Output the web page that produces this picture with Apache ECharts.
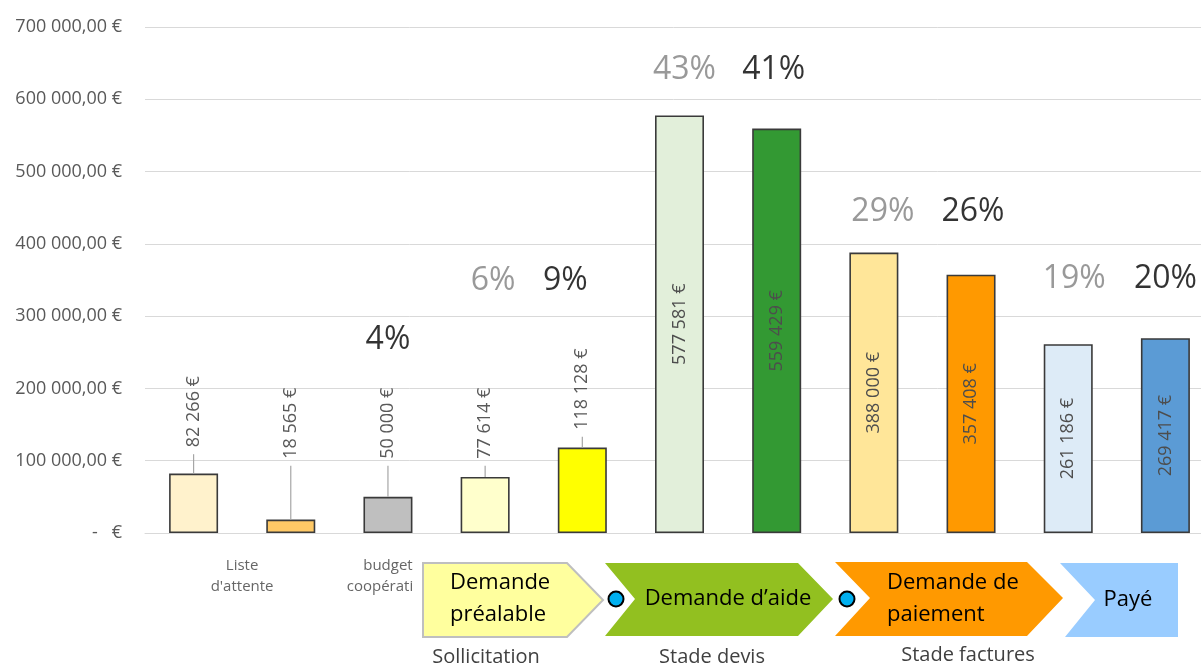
<!DOCTYPE html>
<html>
<head>
<meta charset="utf-8">
<script src="https://cdn.jsdelivr.net/npm/echarts@6/dist/echarts.min.js"></script>
<style>
html,body{margin:0;padding:0;background:#fff;}
#main{width:1201px;height:664px;}
</style>
</head>
<body>
<div id="main"></div>
<script>
// ---- data ----
var categories = ['Liste d\'attente', 'cat2', 'budget coopération', 'cat4', 'cat5', 'cat6', 'cat7', 'cat8', 'cat9', 'cat10', 'cat11'];
var values = [82266, 18565, 50000, 77614, 118128, 577581, 559429, 388000, 357408, 261186, 269417];
var barColors = ['#FFF2CC', '#FFC966', '#BFBFBF', '#FFFFCC', '#FFFF00', '#E2EFDA', '#339933', '#FFE699', '#FF9900', '#DDEBF7', '#5B9BD5'];
var pctLabels = ['', '', '4%', '6%', '9%', '43%', '41%', '29%', '26%', '19%', '20%'];
var pctTone = ['', '', 'dark', 'light', 'dark', 'light', 'dark', 'light', 'dark', 'light', 'dark'];
var pctLevels = [null, null, 267000, 349000, 349000, 640000, 640000, 444000, 444000, 352000, 352000];
var leaderTops = [109000, 93000, 93000, 93000, 133000];

function fmt(v) {
  return String(v).replace(/\B(?=(\d{3})+(?!\d))/g, ' ');
}

var FONT = '"Open Sans", "Noto Sans", sans-serif';
// small horizontal nudges (pixels) of the percentage annotations, as in the original
var pctNudge = [0, 0, 0, 8, -17, 5, -3, 9, 2, 6, 0];

var barData = values.map(function (v, i) {
  return {
    value: v,
    itemStyle: { color: barColors[i] },
    label: { show: i >= 5 }
  };
});

var leaderData = leaderTops.map(function (t, i) { return [i, values[i], t]; });

var pctData = [];
pctLabels.forEach(function (p, i) {
  if (p) {
    pctData.push({
      value: [i, pctLevels[i]],
      label: { formatter: p, color: pctTone[i] === 'dark' ? '#000000' : '#808080', offset: [pctNudge[i], 0] }
    });
  }
});

var chart = echarts.init(document.getElementById('main'), null, { renderer: 'canvas' });

var option = {
  animation: false,
  backgroundColor: '#ffffff',
  grid: { left: 145, top: 27, width: 1069, height: 506, containLabel: false, outerBoundsMode: 'none' },
  xAxis: {
    type: 'category',
    data: categories,
    axisLine: { show: true, lineStyle: { color: '#D9D9D9', width: 1 } },
    axisTick: { show: false },
    axisLabel: {
      interval: 0,
      margin: 22,
      color: '#666666',
      fontFamily: FONT,
      fontSize: 15,
      lineHeight: 21,
      formatter: function (val, idx) {
        if (idx === 0) return '{a|Liste}\n{a|d\'attente}';
        if (idx === 2) return '{b|budget}\n{c|coopérati}';
        return '';
      },
      rich: {
        a: { padding: [0, 0, 0, 97], color: '#666666', fontFamily: FONT, fontSize: 15, lineHeight: 21 },
        b: { color: '#666666', fontFamily: FONT, fontSize: 15, lineHeight: 21 },
        c: { padding: [0, 16, 0, 0], color: '#666666', fontFamily: FONT, fontSize: 15, lineHeight: 21 }
      }
    }
  },
  yAxis: {
    type: 'value',
    min: 0,
    max: 700000,
    interval: 100000,
    axisLine: { show: false },
    axisTick: { show: false },
    splitLine: { show: true, lineStyle: { color: '#D9D9D9', width: 1 } },
    axisLabel: {
      margin: 23,
      color: '#595959',
      fontFamily: FONT,
      fontSize: 18,
      formatter: function (v) {
        if (v === 0) return '-   €';
        return fmt(v) + ',00 €';
      }
    }
  },
  series: [
    {
      type: 'bar',
      data: barData,
      barWidth: 49,
      itemStyle: { borderColor: '#3A3A3A', borderWidth: 1.6 },
      label: {
        position: 'inside',
        rotate: 90,
        color: '#4D4D4D',
        fontFamily: FONT,
        fontSize: 18,
        formatter: function (p) { return fmt(p.value) + ' €'; }
      },
      z: 2
    },
    {
      type: 'custom',
      data: leaderData,
      encode: { x: 0, y: [1, 2] },
      renderItem: function (params, api) {
        var i = api.value(0);
        var p0 = api.coord([i, api.value(1)]);
        var p1 = api.coord([i, api.value(2)]);
        return {
          type: 'group',
          children: [
            {
              type: 'line',
              shape: { x1: p0[0], y1: p0[1], x2: p1[0], y2: p1[1] },
              style: { stroke: '#A6A6A6', lineWidth: 1.2 }
            },
            {
              type: 'text',
              x: p1[0],
              y: p1[1] - 7,
              rotation: Math.PI / 2,
              style: {
                text: fmt(values[i]) + ' €',
                fill: '#595959',
                font: '18px ' + FONT,
                align: 'left',
                verticalAlign: 'middle',
                textAlign: 'left',
                textVerticalAlign: 'middle'
              }
            }
          ]
        };
      },
      z: 3
    },
    {
      type: 'scatter',
      data: pctData,
      symbolSize: 0,
      label: {
        show: true,
        position: 'inside',
        fontFamily: FONT,
        fontSize: 32
      },
      z: 4
    }
  ],
  graphic: [
    { type: 'polygon', shape: { points: [[423, 563], [567, 563], [603, 600], [567, 637], [423, 637]] }, style: { fill: '#FFFF9E', stroke: '#BFBFBF', lineWidth: 2 }, z: 10 },
    { type: 'polygon', shape: { points: [[605, 563], [798, 563], [833, 599], [798, 636], [605, 636], [635, 599]] }, style: { fill: '#92C020' }, z: 10 },
    { type: 'polygon', shape: { points: [[835, 562], [1027, 562], [1063, 598], [1027, 636], [835, 636], [870, 598]] }, style: { fill: '#FF9900' }, z: 10 },
    { type: 'polygon', shape: { points: [[1060, 563], [1178, 563], [1178, 637], [1065, 637], [1095, 600]] }, style: { fill: '#99CCFF' }, z: 10 },
    { type: 'circle', shape: { cx: 616, cy: 599, r: 7.5 }, style: { fill: '#00B0F0', stroke: '#000000', lineWidth: 2 }, z: 11 },
    { type: 'circle', shape: { cx: 847, cy: 599, r: 7.5 }, style: { fill: '#00B0F0', stroke: '#000000', lineWidth: 2 }, z: 11 },
    { type: 'text', x: 450, y: 599, style: { text: 'Demande\npréalable', font: '22px ' + FONT, fill: '#000000', lineHeight: 32, align: 'left', verticalAlign: 'middle' }, z: 12 },
    { type: 'text', x: 728, y: 599, style: { text: 'Demande d’aide', font: '22px ' + FONT, fill: '#000000', align: 'center', verticalAlign: 'middle' }, z: 12 },
    { type: 'text', x: 887, y: 599, style: { text: 'Demande de\npaiement', font: '22px ' + FONT, fill: '#000000', lineHeight: 32, align: 'left', verticalAlign: 'middle' }, z: 12 },
    { type: 'text', x: 1128, y: 600, style: { text: 'Payé', font: '22px ' + FONT, fill: '#000000', align: 'center', verticalAlign: 'middle' }, z: 12 },
    { type: 'text', x: 486, y: 657, style: { text: 'Sollicitation', font: '20px ' + FONT, fill: '#404040', align: 'center', verticalAlign: 'middle' }, z: 12 },
    { type: 'text', x: 712, y: 657, style: { text: 'Stade devis', font: '20px ' + FONT, fill: '#404040', align: 'center', verticalAlign: 'middle' }, z: 12 },
    { type: 'text', x: 968, y: 655, style: { text: 'Stade factures', font: '20px ' + FONT, fill: '#404040', align: 'center', verticalAlign: 'middle' }, z: 12 }
  ]
};

chart.setOption(option);
</script>
</body>
</html>
